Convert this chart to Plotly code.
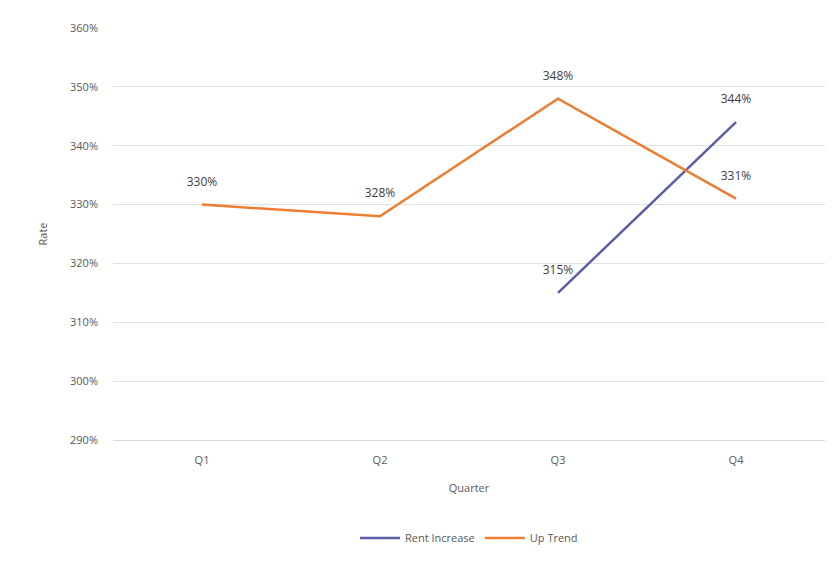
import plotly.graph_objects as go

categories = ["Q1", "Q2", "Q3", "Q4"]
series_a_name = "Rent Increase"
series_a = [None, None, 315, 344]
series_b_name = "Up Trend"
series_b = [330, 328, 348, 331]
y_ticks = [290, 300, 310, 320, 330, 340, 350, 360]
x_title = "Quarter"
y_title = "Rate"

def labels(vals):
    return [f"{v}%" if v is not None else "" for v in vals]

fig = go.Figure()
for name, vals, color in [(series_a_name, series_a, "#5b5ea6"),
                          (series_b_name, series_b, "#ed7d31")]:
    fig.add_trace(go.Scatter(
        x=categories, y=vals, name=name, mode="lines+markers+text",
        line=dict(color=color, width=2.5),
        marker=dict(size=24, color="rgba(0,0,0,0)"),
        text=labels(vals), textposition="top center",
        textfont=dict(color="#404040", size=12),
        connectgaps=False,
    ))

fig.update_layout(
    width=835, height=561,
    margin=dict(l=113, r=10, t=28, b=120),
    paper_bgcolor="white", plot_bgcolor="white",
    font=dict(family="Open Sans, sans-serif", color="#595959", size=11),
    showlegend=True,
    legend=dict(orientation="h", x=0.5, xanchor="center", y=-0.2, yanchor="top",
                font=dict(size=11, color="#595959"), itemwidth=40),
    xaxis=dict(
        type="category", range=[-0.5, 3.5], showgrid=False, zeroline=False,
        showline=True, linecolor="#d9d9d9", ticks="", ticklabelstandoff=10,
        title=dict(text=x_title, standoff=18, font=dict(size=11, color="#595959")),
    ),
    yaxis=dict(
        range=[290, 360], tickvals=y_ticks, ticktext=[f"{t}%" for t in y_ticks],
        showgrid=True, gridcolor="#e0e0e0", zeroline=False, showline=False,
        ticklabelstandoff=14,
        title=dict(text=y_title, standoff=20, font=dict(size=11, color="#595959")),
    ),
)

fig.write_html("out.html")
